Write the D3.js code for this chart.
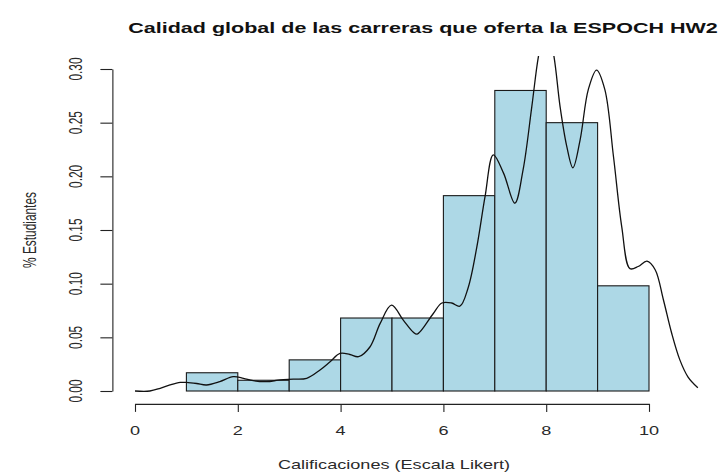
<!DOCTYPE html>
<html><head><meta charset="utf-8">
<script src="https://cdn.jsdelivr.net/npm/d3@7/dist/d3.min.js"></script>
<style>body{margin:0;background:#fff} svg{display:block}</style>
</head><body>
<svg id="chart" width="724" height="475"></svg>
<script>
// ---- data ----
const titleText = "Calidad global de las carreras que oferta la ESPOCH HW2";
const xLabel = "Calificaciones (Escala Likert)";
const yLabel = "% Estudiantes";
const binStarts = [1, 2, 3, 4, 5, 6, 7, 8, 9];
const binEnds   = [2, 3, 4, 5, 6, 7, 8, 9, 10];
const binDensity = [0.017, 0.010, 0.029, 0.068, 0.068, 0.182, 0.280, 0.250, 0.098];
const densityX = [0.00, 0.29, 0.49, 0.68, 0.88, 1.00, 1.20, 1.39, 1.65, 1.91, 2.11, 2.30, 2.56, 2.82, 3.08, 3.34,
                  3.60, 3.79, 3.99, 4.18, 4.35, 4.57, 4.77, 4.99, 5.22, 5.41, 5.49, 5.80, 5.97, 6.16, 6.32, 6.48,
                  6.65, 6.81, 6.97, 7.17, 7.39, 7.55, 7.72, 7.85, 8.00, 8.15, 8.27, 8.40, 8.52, 8.66, 8.82, 8.98,
                  9.14, 9.31, 9.47, 9.63, 9.79, 9.96, 10.12, 10.28, 10.44, 10.60, 10.76, 10.95];
const densityY = [0.000, 0.000, 0.0025, 0.0056, 0.008, 0.008, 0.007, 0.0056, 0.0087, 0.0133, 0.0118, 0.0096, 0.0087, 0.0103, 0.011, 0.0118,
                  0.0196, 0.027, 0.035, 0.034, 0.032, 0.041, 0.063, 0.080, 0.066, 0.055, 0.053, 0.072, 0.082, 0.082, 0.079, 0.096,
                  0.134, 0.181, 0.220, 0.203, 0.175, 0.206, 0.265, 0.312, 0.345, 0.312, 0.265, 0.228, 0.208, 0.234, 0.281, 0.299,
                  0.281, 0.218, 0.153, 0.114, 0.116, 0.121, 0.113, 0.085, 0.054, 0.029, 0.013, 0.003];
const xTicks = [0, 2, 4, 6, 8, 10];
const yTicks = [0, 0.05, 0.10, 0.15, 0.20, 0.25, 0.30];
const yTickLabels = ["0.00", "0.05", "0.10", "0.15", "0.20", "0.25", "0.30"];

// ---- layout ----
const SX = 1.508, SY = 0.99; // the picture is horizontally stretched
const svg = d3.select("#chart");
const x = d3.scaleLinear().domain([0, 10]).range([135, 649]);
const y = d3.scaleLinear().domain([0, 0.30]).range([391, 69]);
const plotLeft = x(-0.44), plotRight = 724, plotTop = y(0.312), plotBottom = y(-0.012);
const font = "'Liberation Sans', Arial, Helvetica, sans-serif";
const textCol = "#2a2a2a";

// clip region (R plot region)
svg.append("defs").append("clipPath").attr("id", "plotclip")
  .append("rect").attr("x", plotLeft).attr("y", plotTop)
  .attr("width", plotRight - plotLeft).attr("height", plotBottom - plotTop);

// bars
const bins = binStarts.map((s, i) => ({ x0: s, x1: binEnds[i], d: binDensity[i] }));
svg.append("g").selectAll("rect").data(bins).join("rect")
  .attr("x", d => x(d.x0)).attr("y", d => y(d.d))
  .attr("width", d => x(d.x1) - x(d.x0)).attr("height", d => y(0) - y(d.d))
  .attr("fill", "#ADD8E6").attr("stroke", "#1a1a1a").attr("stroke-width", 1.1);

// density line
const pts = densityX.map((v, i) => [v, densityY[i]]);
svg.append("path").datum(pts)
  .attr("clip-path", "url(#plotclip)")
  .attr("d", d3.line().x(d => x(d[0])).y(d => y(d[1])).curve(d3.curveCatmullRom.alpha(0.5)))
  .attr("fill", "none").attr("stroke", "#111").attr("stroke-width", 1.3);

// x axis
const xAxisY = plotBottom;
const gx = svg.append("g").attr("transform", `translate(0,${xAxisY})`)
  .call(d3.axisBottom(x).tickValues(xTicks).tickSize(8).tickSizeOuter(0).tickFormat(""));
gx.select(".domain").attr("stroke", "#222").attr("stroke-width", 1.1);
gx.selectAll(".tick line").attr("stroke", "#222").attr("stroke-width", 1.1);
svg.append("g").selectAll("text").data(xTicks).join("text")
  .attr("transform", d => `translate(${x(d)},435) scale(${SX},${SY})`)
  .attr("text-anchor", "middle").attr("font-family", font).attr("font-size", 12)
  .attr("fill", textCol).text(d => d);

// y axis
const gy = svg.append("g").attr("transform", `translate(${plotLeft},0)`)
  .call(d3.axisLeft(y).tickValues(yTicks).tickSize(12).tickSizeOuter(0).tickFormat(""));
gy.select(".domain").attr("stroke", "#222").attr("stroke-width", 1.1);
gy.selectAll(".tick line").attr("stroke", "#222").attr("stroke-width", 1.1);
svg.append("g").selectAll("text").data(yTicks).join("text")
  .attr("transform", (d, i) => `translate(82,${y(d)}) rotate(-90) scale(${SY},${SX})`)
  .attr("text-anchor", "middle").attr("font-family", font).attr("font-size", 12)
  .attr("fill", textCol).text((d, i) => yTickLabels[i]);

// titles
svg.append("text")
  .attr("transform", `translate(423,33) scale(1.495,${SY})`)
  .attr("text-anchor", "middle").attr("font-family", font).attr("font-weight", "bold")
  .attr("font-size", 14.4).attr("fill", "#111").text(titleText);
svg.append("text")
  .attr("transform", `translate(394,469) scale(${SX},${SY})`)
  .attr("text-anchor", "middle").attr("font-family", font).attr("font-size", 12)
  .attr("fill", textCol).text(xLabel);
svg.append("text")
  .attr("transform", `translate(36,230) rotate(-90) scale(${SY},${SX})`)
  .attr("text-anchor", "middle").attr("font-family", font).attr("font-size", 12)
  .attr("fill", textCol).text(yLabel);
</script>
</body></html>
